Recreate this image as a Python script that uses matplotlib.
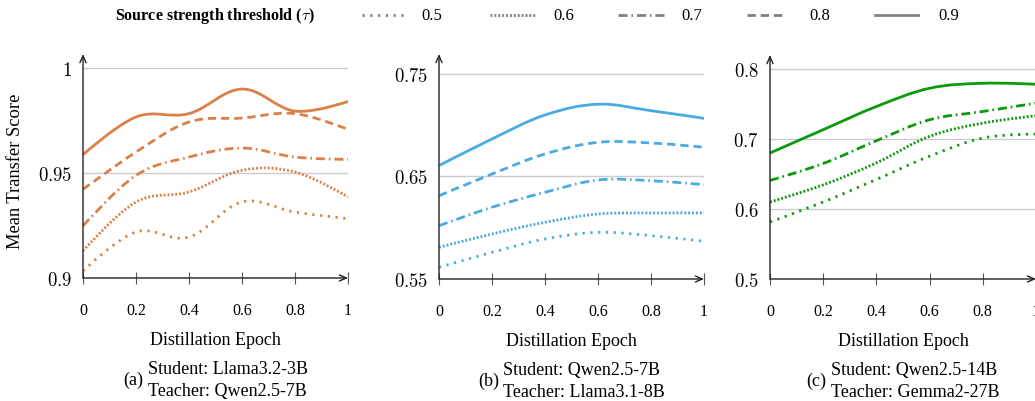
import matplotlib
matplotlib.use("Agg")
import numpy as np
import matplotlib.pyplot as plt
from matplotlib.path import Path
from matplotlib.patches import PathPatch
from matplotlib.lines import Line2D
from matplotlib.offsetbox import TextArea, HPacker, AnnotationBbox

plt.rcParams['font.family'] = ['Liberation Serif', 'DejaVu Serif']
plt.rcParams['mathtext.fontset'] = 'cm'
plt.rcParams['lines.scale_dashes'] = False

epochs = [0, 0.2, 0.4, 0.6, 0.8, 1.0]
x_tick_labels = ["0", "0.2", "0.4", "0.6", "0.8", "1"]
thresholds = ["0.5", "0.6", "0.7", "0.8", "0.9"]

# (a) Student Llama3.2-3B / Teacher Qwen2.5-7B
a_05 = [0.9033, 0.9219, 0.9195, 0.9362, 0.9314, 0.9283]
a_06 = [0.9129, 0.9362, 0.9410, 0.9513, 0.9505, 0.9386]
a_07 = [0.9248, 0.9489, 0.9576, 0.9619, 0.9576, 0.9565]
a_08 = [0.9422, 0.9600, 0.9743, 0.9762, 0.9783, 0.9708]
a_09 = [0.9587, 0.9767, 0.9783, 0.9900, 0.9795, 0.9841]

# (b) Student Qwen2.5-7B / Teacher Llama3.1-8B
b_05 = [0.5614, 0.5760, 0.5890, 0.5955, 0.5923, 0.5867]
b_06 = [0.5809, 0.5939, 0.6053, 0.6134, 0.6144, 0.6144]
b_07 = [0.6020, 0.6200, 0.6346, 0.6466, 0.6459, 0.6420]
b_08 = [0.6313, 0.6524, 0.6720, 0.6833, 0.6827, 0.6785]
b_09 = [0.6606, 0.6866, 0.7100, 0.7205, 0.7142, 0.7067]

# (c) Student Qwen2.5-14B / Teacher Gemma2-27B (no 0.8 run)
c_05 = [0.5815, 0.6100, 0.6422, 0.6754, 0.7014, 0.7071]
c_06 = [0.6100, 0.6345, 0.6659, 0.7038, 0.7227, 0.7332]
c_07 = [0.6408, 0.6650, 0.6975, 0.7275, 0.7393, 0.7512]
c_09 = [0.6800, 0.7133, 0.7464, 0.7725, 0.7796, 0.7782]

styles = {
    "0.5": (0, (1.6, 4.0)),
    "0.6": (0, (1.4, 1.4)),
    "0.7": (0, (6.5, 2.8, 1.2, 2.8)),
    "0.8": (0, (6.0, 3.5)),
    "0.9": "-",
}

panels = [
    dict(pos=[83, 279, 265, 224], ylim=(0.9, 1.0067), yticks=[0.9, 0.95, 1.0],
         ylabels=["$0.9$", "$0.95$", "$1$"], color="#DA8048", tag="(a)",
         cap="Student: Llama3.2-3B\nTeacher: Qwen2.5-7B",
         series={"0.5": a_05, "0.6": a_06, "0.7": a_07, "0.8": a_08, "0.9": a_09}),
    dict(pos=[439, 280, 265, 225], ylim=(0.55, 0.7695), yticks=[0.55, 0.65, 0.75],
         ylabels=["$0.55$", "$0.65$", "$0.75$"], color="#4AAAE2", tag="(b)",
         cap="Student: Qwen2.5-7B\nTeacher: Llama3.1-8B",
         series={"0.5": b_05, "0.6": b_06, "0.7": b_07, "0.8": b_08, "0.9": b_09}),
    dict(pos=[770, 280, 266, 224], ylim=(0.5, 0.82), yticks=[0.5, 0.6, 0.7, 0.8],
         ylabels=["$0.5$", "$0.6$", "$0.7$", "$0.8$"], color="#0A9A0A", tag="(c)",
         cap="Student: Qwen2.5-14B\nTeacher: Gemma2-27B",
         series={"0.5": c_05, "0.6": c_06, "0.7": c_07, "0.9": c_09}),
]

W, H = 1035, 402


def smooth_path(xs, ys, k=0.18):
    # cubic bezier through the points, like pgfplots "smooth"
    pts = np.column_stack([xs, ys])
    verts = [pts[0]]
    codes = [Path.MOVETO]
    n = len(pts)
    for i in range(n - 1):
        p0, p1 = pts[i], pts[i + 1]
        t0 = (pts[i + 1] - pts[i - 1]) if i > 0 else (p1 - p0) * 0.0
        t1 = (pts[i + 2] - pts[i]) if i + 2 < n else (p1 - p0) * 0.0
        verts += [p0 + k * t0, p1 - k * t1, p1]
        codes += [Path.CURVE4] * 3
    return Path(verts, codes)


fig = plt.figure(figsize=(W / 100, H / 100), dpi=100)

for p in panels:
    left, bottom, w, h = p["pos"]
    ax = fig.add_axes([left / W, (H - bottom) / H, w / W, h / H])
    ax.set_xlim(0, 1)
    ax.set_ylim(*p["ylim"])
    for s in ax.spines.values():
        s.set_visible(False)
    ax.set_yticks(p["yticks"])
    ax.set_yticklabels(p["ylabels"], fontsize=13.5)
    ax.set_xticks(epochs)
    ax.set_xticklabels(x_tick_labels, fontsize=11.5)
    ax.tick_params(axis="y", length=0, pad=8)
    ax.tick_params(axis="x", direction="inout", length=8, width=0.8,
                   color="#555555", pad=13)
    ax.grid(axis="y", color="#cccccc", lw=1.0)
    ax.set_axisbelow(True)

    for key, vals in p["series"].items():
        patch = PathPatch(smooth_path(epochs, vals), facecolor="none",
                          edgecolor=p["color"], lw=2.0, linestyle=styles[key],
                          capstyle="butt", joinstyle="round")
        ax.add_patch(patch)

    arrow = dict(arrowstyle="->,head_length=0.5,head_width=0.22", lw=1.0,
                 color="#222222", shrinkA=0, shrinkB=0)
    ax.annotate("", xy=(0, 1), xytext=(0, 0), xycoords="axes fraction",
                arrowprops=arrow, annotation_clip=False)
    ax.annotate("", xy=(1.0, 0), xytext=(0, 0), xycoords="axes fraction",
                arrowprops=arrow, annotation_clip=False)

    ax.text(0.5, -0.273, "Distillation Epoch", transform=ax.transAxes,
            ha="center", va="center", fontsize=13)

    tag = TextArea(p["tag"], textprops=dict(fontsize=13))
    cap = TextArea(p["cap"], textprops=dict(fontsize=13, linespacing=1.36))
    box = HPacker(children=[tag, cap], align="center", pad=0, sep=3)
    ab = AnnotationBbox(box, (0.5, -0.452), xycoords="axes fraction",
                        box_alignment=(0.5, 0.5), frameon=False,
                        annotation_clip=False)
    ax.add_artist(ab)

fig.text(16 / W, 1 - 171 / H, "Mean Transfer Score", rotation=90,
         ha="center", va="center", fontsize=13.3)

# legend row
fig.text(115 / W, 1 - 16 / H, r"Source strength threshold ($\tau$)",
         fontsize=11.5, fontweight="bold", ha="left", va="center")
sample_x = [(362, 407), (490, 536), (618, 664), (747, 786), (875, 918)]
label_x = [421, 553, 681, 809, 938]
for key, (x0, x1), lx in zip(thresholds, sample_x, label_x):
    fig.add_artist(Line2D([x0 / W, x1 / W], [1 - 16 / H, 1 - 16 / H],
                          transform=fig.transFigure, color="#808080", lw=2.0,
                          linestyle=styles[key], dash_capstyle="butt"))
    fig.text(lx / W, 1 - 16 / H, key, fontsize=12, ha="left", va="center")

fig.savefig("out.png", dpi=100)
